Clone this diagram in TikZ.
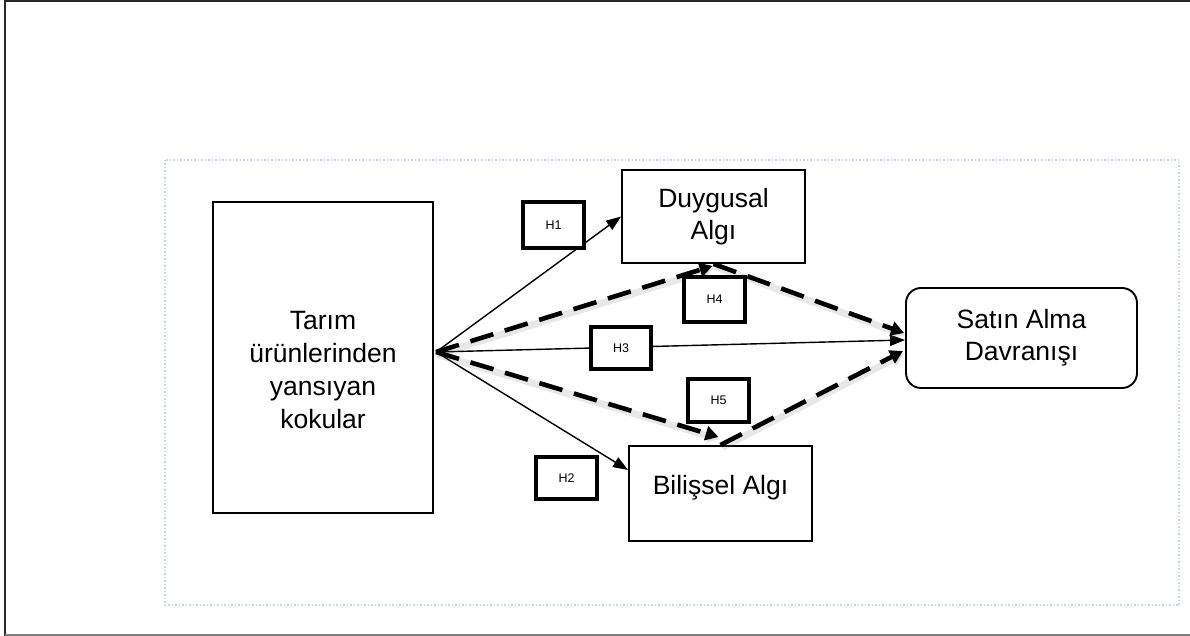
\documentclass[tikz,border=0pt]{standalone}
\usepackage{fontspec}
\setmainfont{Liberation Sans}
\usetikzlibrary{arrows.meta,calc}
\definecolor{framegray}{RGB}{40,40,40}
\definecolor{dotblue}{RGB}{196,212,234}
\begin{document}
\begin{tikzpicture}[x=1pt,y=-1pt,
  box/.style={draw, line width=1.9pt, align=center, inner sep=0pt,
    font=\fontsize{26.5}{32}\selectfont},
  hbox/.style={draw, line width=3.8pt, fill=white, inner sep=0pt,
    font=\fontsize{12.5}{14}\selectfont},
  thinarr/.style={line width=1.4pt, -{Triangle[length=15pt,width=11pt]}},
  dasharr/.style={line width=4.6pt, dash pattern=on 24pt off 12pt,
    -{Triangle[length=13pt,width=14pt]},
    preaction={draw=gray, opacity=0.18, line width=7pt,
      transform canvas={shift={(1.5pt,-2.5pt)}}}},
]
\useasboundingbox (0,0) rectangle (1190,636);
% outer frame
\draw[framegray, line width=1.8pt] (5,636) -- (5,1) -- (1190,1);
\draw[gray, line width=1.8pt] (5,635) -- (1190,635);
% dotted frame
\draw[dotblue, line width=1.5pt, dotted] (165,160) rectangle (1179,605);

% main boxes
\node[box, minimum width=220pt, minimum height=311pt] (tarim) at (323,357.5) {};
\node[align=center, font=\fontsize{26.5}{33}\selectfont] (tarimtxt) at (323,370)
  {Tarım\\ürünlerinden\\yansıyan\\kokular};
\node[box, minimum width=183pt, minimum height=93pt] (duy) at (713.5,216.5) {Duygusal\\Algı};
\node[box, minimum width=183pt, minimum height=95pt, anchor=north] (bil) at (720.5,445) {};
\node[font=\fontsize{26.5}{32}\selectfont] (biltxt) at (720.5,488) {Bilişsel Algı};
\node[box, rounded corners=15pt, minimum width=231pt, minimum height=100pt] (sat) at (1021.5,338) {Satın Alma\\Davranışı};

\coordinate (src) at (436,352);

% solid arrows
\draw[thinarr] (src) -- (duy.west);
\draw[thinarr] (src) -- ($(bil.north west)+(0,25)$);
\draw[thinarr] (src) -- ($(sat.west)+(0,2)$);

% dashed arrows
\draw[dasharr] (src) -- ($(duy.south)+(-1,2)$);
\draw[dasharr] (duy.south) -- ($(sat.west)+(-1,-5)$);
\draw[dasharr] (src) -- ($(bil.north)+(-2,-8)$);
\draw[dasharr] (bil.north) -- ($(sat.west)+(-2,13)$);

% hypothesis labels
\node[hbox, minimum width=61pt, minimum height=46pt] (h1) at (553.5,225) {H1};
\node[hbox, minimum width=61pt, minimum height=45pt] (h4) at (714.5,299.5) {H4};
\node[hbox, minimum width=60pt, minimum height=42pt] (h3) at (621,348) {H3};
\node[hbox, minimum width=61pt, minimum height=43pt] (h5) at (718.5,400.5) {H5};
\node[hbox, minimum width=61pt, minimum height=42pt] (h2) at (566.5,478) {H2};
\end{tikzpicture}
\end{document}
